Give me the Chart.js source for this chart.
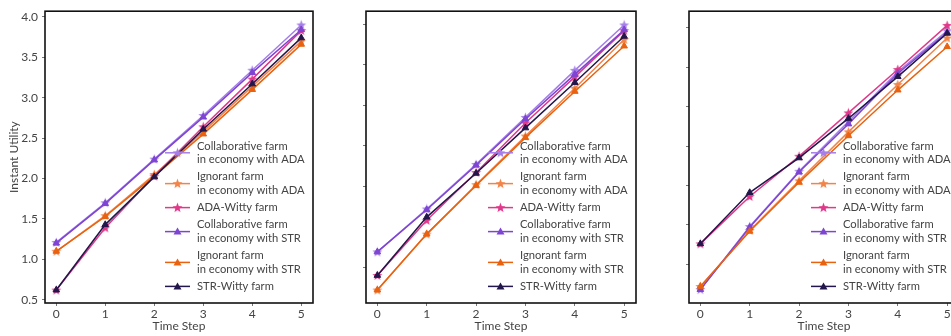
<!DOCTYPE html>
<html>
<head>
<meta charset="utf-8">
<script src="https://cdn.jsdelivr.net/npm/chart.js"></script>
<style>
  html, body { margin: 0; padding: 0; background: #fff; overflow: hidden; }
  body { width: 951px; height: 336px; position: relative; font-family: Lato, sans-serif; }
  .panel { position: absolute; top: 0; }
</style>
</head>
<body>
<div class="panel" style="left:0px"><canvas id="p0" width="320" height="336"></canvas></div>
<div class="panel" style="left:321px"><canvas id="p1" width="320" height="336"></canvas></div>
<div class="panel" style="left:644px"><canvas id="p2" width="320" height="336"></canvas></div>
<script>
  // Data: one row per panel, six time steps each
  const steps = [0, 1, 2, 3, 4, 5];
  const yTicks = [[0.5, 1.0, 1.5, 2.0, 2.5, 3.0, 3.5, 4.0], [1.0, 1.5, 2.0, 2.5, 3.0, 3.5, 4.0], [1.0, 1.5, 2.0, 2.5, 3.0, 3.5, 4.0]];
  const yMin = [0.46, 0.56, 0.51];
  const yMax = [4.07, 4.16, 4.21];

  const collabAda   = [[1.21, 1.70, 2.24, 2.78, 3.34, 3.90], [1.19, 1.72, 2.27, 2.85, 3.43, 3.99], [0.68, 1.48, 2.18, 2.81, 3.44, 3.96]];
  const ignorantAda = [[1.10, 1.54, 2.05, 2.58, 3.14, 3.70], [0.72, 1.41, 2.02, 2.62, 3.21, 3.81], [0.72, 1.43, 2.06, 2.68, 3.28, 3.87]];
  const adaWitty    = [[0.62, 1.39, 2.03, 2.64, 3.23, 3.83], [0.90, 1.58, 2.17, 2.78, 3.35, 3.92], [1.26, 1.86, 2.37, 2.92, 3.47, 4.03]];
  const collabStr   = [[1.20, 1.69, 2.23, 2.76, 3.31, 3.84], [1.19, 1.71, 2.26, 2.83, 3.38, 3.93], [0.68, 1.47, 2.17, 2.78, 3.42, 3.94]];
  const ignorantStr = [[1.10, 1.53, 2.03, 2.55, 3.10, 3.66], [0.72, 1.41, 2.01, 2.60, 3.17, 3.73], [0.72, 1.42, 2.04, 2.63, 3.21, 3.76]];
  const strWitty    = [[0.62, 1.43, 2.02, 2.61, 3.17, 3.74], [0.90, 1.62, 2.16, 2.72, 3.28, 3.85], [1.26, 1.91, 2.35, 2.85, 3.38, 3.93]];

  const seriesLabels = [
    ['Collaborative farm', 'in economy with ADA'],
    ['Ignorant farm', 'in economy with ADA'],
    ['ADA-Witty farm'],
    ['Collaborative farm', 'in economy with STR'],
    ['Ignorant farm', 'in economy with STR'],
    ['STR-Witty farm']
  ];
  const seriesData = [collabAda, ignorantAda, adaWitty, collabStr, ignorantStr, strWitty];
  const seriesColors = ['#a57ee8', '#f2844a', '#e0388a', '#7e44d2', '#e9620f', '#22164a'];
  const seriesMarkers = ['star', 'star', 'star', 'triangle', 'triangle', 'triangle'];

  const textColor = '#444';
  const font = { family: 'Lato, sans-serif', size: 12 };

  // filled five-point star used as a marker image
  function starImage(color) {
    const c = document.createElement('canvas');
    c.width = 11; c.height = 11;
    const g = c.getContext('2d');
    g.beginPath();
    for (let k = 0; k < 10; k++) {
      const r = k % 2 === 0 ? 5.2 : 2.2;
      const a = -Math.PI / 2 + k * Math.PI / 5;
      const px = 5.5 + r * Math.cos(a), py = 5.8 + r * Math.sin(a);
      k === 0 ? g.moveTo(px, py) : g.lineTo(px, py);
    }
    g.closePath();
    g.fillStyle = color;
    g.fill();
    return c;
  }
  const markerStyles = seriesMarkers.map((m, i) => m === 'star' ? starImage(seriesColors[i]) : 'triangle');

  // black frame around the plot area
  const framePlugin = {
    id: 'frame',
    afterDatasetsDraw(chart) {
      const { ctx, chartArea: a } = chart;
      ctx.save();
      ctx.strokeStyle = '#111';
      ctx.lineWidth = 1.6;
      ctx.strokeRect(a.left, a.top, a.right - a.left, a.bottom - a.top);
      ctx.restore();
    }
  };

  // legend in the lower right of each panel, with two-line labels
  const legendPlugin = {
    id: 'sideLegend',
    afterDraw(chart) {
      const { ctx, chartArea: a } = chart;
      const lineH = 13.6, gap = 3.6;
      let y = 139.2;
      ctx.save();
      ctx.font = '11.2px Lato, sans-serif';
      ctx.textBaseline = 'middle';
      ctx.textAlign = 'left';
      seriesLabels.forEach((lines, i) => {
        const h = lines.length * lineH;
        const mid = y + h / 2;
        const x0 = a.right - 148, x1 = a.right - 123;
        ctx.strokeStyle = seriesColors[i];
        ctx.lineWidth = 1.5;
        ctx.beginPath();
        ctx.moveTo(x0, mid);
        ctx.lineTo(x1, mid);
        ctx.stroke();
        const cx = (x0 + x1) / 2;
        const st = markerStyles[i];
        if (st === 'triangle') {
          ctx.fillStyle = seriesColors[i];
          ctx.beginPath();
          ctx.moveTo(cx, mid - 4);
          ctx.lineTo(cx + 4, mid + 3);
          ctx.lineTo(cx - 4, mid + 3);
          ctx.closePath();
          ctx.fill();
        } else {
          ctx.drawImage(st, cx - st.width / 2, mid - st.height / 2);
        }
        ctx.fillStyle = textColor;
        lines.forEach((t, k) => ctx.fillText(t, a.right - 116, y + lineH * (k + 0.5)));
        y += h + gap;
      });
      ctx.restore();
    }
  };

  for (let p = 0; p < 3; p++) {
    const datasets = seriesData.map((rows, i) => ({
      label: seriesLabels[i].join(' '),
      data: steps.map((s, k) => ({ x: s, y: rows[p][k] })),
      borderColor: seriesColors[i],
      backgroundColor: seriesColors[i],
      borderWidth: 1.5,
      pointStyle: markerStyles[i],
      pointRadius: 3.8,
      pointBorderWidth: 1,
      tension: 0,
      order: 5 - i
    }));

    new Chart(document.getElementById('p' + p), {
      type: 'line',
      data: { datasets: datasets },
      options: {
        responsive: false,
        animation: false,
        layout: { padding: { top: 5, right: p === 0 ? 7 : 5, left: 0, bottom: 0 } },
        plugins: { legend: { display: false }, tooltip: { enabled: false } },
        scales: {
          x: {
            type: 'linear',
            min: -0.23,
            max: 5.24,
            afterBuildTicks: ax => { ax.ticks = steps.map(v => ({ value: v })); },
            afterFit: ax => { ax.height = 33; },
            ticks: { color: textColor, font: font, padding: 1, callback: v => String(v) },
            grid: { drawOnChartArea: false, tickLength: 3, color: '#777' },
            border: { display: false },
            title: { display: true, text: 'Time Step', color: textColor, font: font, padding: { top: 0, bottom: 3 } }
          },
          y: {
            min: yMin[p],
            max: yMax[p],
            afterBuildTicks: ax => { ax.ticks = yTicks[p].map(v => ({ value: v })); },
            afterFit: ax => { ax.width = 45; },
            ticks: { color: textColor, font: font, padding: 4, callback: v => p === 0 ? v.toFixed(1) : '' },
            grid: { drawOnChartArea: false, tickLength: 3, color: '#777' },
            border: { display: false },
            title: { display: p === 0, text: 'Instant Utility', color: textColor, font: font, padding: { top: 7, bottom: 0 } }
          }
        }
      },
      plugins: [framePlugin, legendPlugin]
    });
  }
</script>
</body>
</html>
